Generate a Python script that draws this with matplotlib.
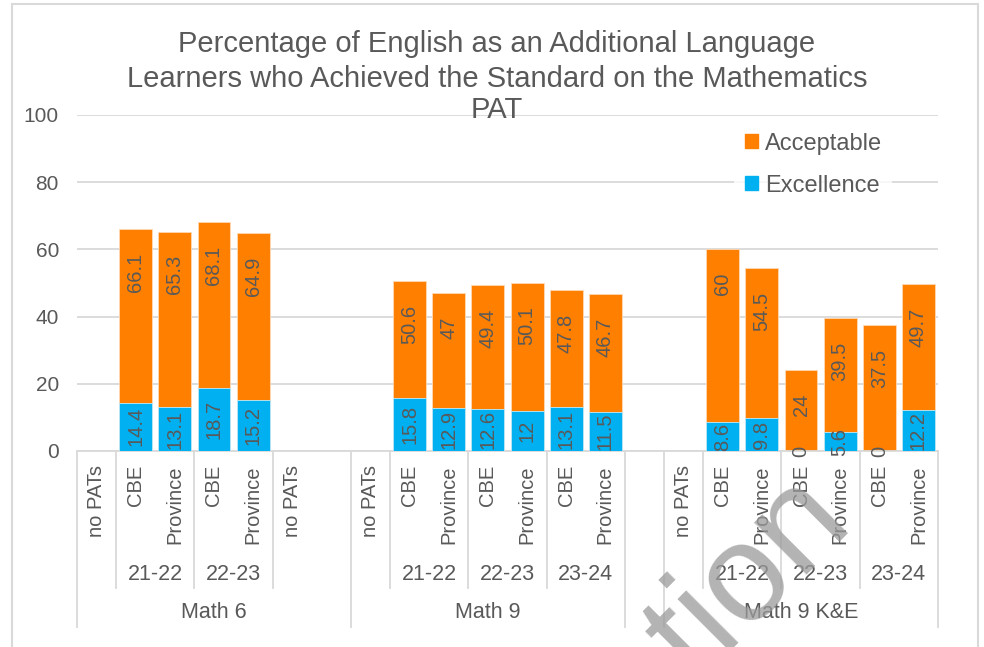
import itertools
import matplotlib
matplotlib.use("Agg")
import matplotlib.pyplot as plt
from matplotlib.patches import Rectangle, Patch
from matplotlib.lines import Line2D
from matplotlib.transforms import blended_transform_factory

plt.rcParams['font.family'] = ['Liberation Sans', 'DejaVu Sans']

# chart data (one entry per category slot on the x axis)
categories = ["no PATs", "CBE", "Province", "CBE", "Province", "no PATs", "",
              "no PATs", "CBE", "Province", "CBE", "Province", "CBE", "Province",
              "",
              "no PATs", "CBE", "Province", "CBE", "Province", "CBE", "Province"]
years = ["", "21-22", "21-22", "22-23", "22-23", "", "",
         "", "21-22", "21-22", "22-23", "22-23", "23-24", "23-24",
         "",
         "", "21-22", "21-22", "22-23", "22-23", "23-24", "23-24"]
groups = ["Math 6"] * 7 + ["Math 9"] * 7 + [""] + ["Math 9 K&E"] * 7
acceptable = [None, 66.1, 65.3, 68.1, 64.9, None, None,
              None, 50.6, 47, 49.4, 50.1, 47.8, 46.7,
              None,
              None, 60, 54.5, 24, 39.5, 37.5, 49.7]
excellence = [None, 14.4, 13.1, 18.7, 15.2, None, None,
              None, 15.8, 12.9, 12.6, 12, 13.1, 11.5,
              None,
              None, 8.6, 9.8, 0, 5.6, 0, 12.2]

title = ("Percentage of English as an Additional Language",
         "Learners who Achieved the Standard on the Mathematics",
         "PAT")

ORANGE = "#FF8000"
BLUE = "#00B0F0"
TXT = "#595959"
GRID = "#D9D9D9"

W, H = 984, 647
fig = plt.figure(figsize=(W / 100, H / 100), dpi=100)


def fy(px):
    return 1 - px / H


# chart border
fig.patches.append(Rectangle((12 / W, -0.02), 966 / W, fy(4) + 0.02,
                             transform=fig.transFigure, fill=False,
                             edgecolor=GRID, lw=1.5))

ax = fig.add_axes([77 / W, fy(451), 861 / W, 336 / H])
n = len(categories)
xs = range(n)

ia = [i for i in xs if acceptable[i] is not None]
ie = [i for i in xs if excellence[i] is not None]
ax.bar(ia, [acceptable[i] for i in ia], width=0.84, color=ORANGE,
       edgecolor="#FFD9B3", lw=0.6, zorder=2)
ax.bar(ie, [excellence[i] for i in ie], width=0.84, color=BLUE,
       edgecolor="#BFEBFB", lw=0.6, zorder=3)

for i in ia:
    ax.annotate(f"{acceptable[i]:g}", (i, acceptable[i]), xytext=(0, -17),
                textcoords="offset points", rotation=90, ha="center",
                va="top", fontsize=14.5, color=TXT, zorder=5)
for i in ie:
    ax.text(i, excellence[i] / 2, f"{excellence[i]:g}", rotation=90,
            ha="center", va="center", fontsize=14.5, color=TXT, zorder=5)

ax.set_xlim(-0.5, n - 0.5)
ax.set_ylim(0, 100)
ax.set_yticks(range(0, 101, 20))
ax.set_xticks([])
ax.tick_params(axis="y", length=0, pad=13, labelsize=15, labelcolor=TXT)
ax.yaxis.grid(True, color=GRID, lw=1.3, zorder=0)
ax.set_axisbelow(True)
for s in ["left", "right", "top"]:
    ax.spines[s].set_visible(False)
ax.spines["bottom"].set_color(GRID)
ax.spines["bottom"].set_linewidth(1.3)

# multi-level category axis
tr = blended_transform_factory(ax.transData, fig.transFigure)
for i, c in enumerate(categories):
    ax.text(i, fy(465), c, transform=tr, rotation=90, ha="center", va="top",
            fontsize=14.5, color=TXT, clip_on=False)

start = 0
for key, grp in itertools.groupby(zip(groups, years)):
    cnt = len(list(grp))
    mid = start + (cnt - 1) / 2
    if key[1]:
        ax.text(mid, fy(575), key[1], transform=tr, ha="center", va="center",
                fontsize=15.5, color=TXT, clip_on=False)
    start += cnt
    if start < n and groups[start] == key[0]:
        ax.add_line(Line2D([start - 0.5] * 2, [fy(451), fy(588)], transform=tr,
                           color=GRID, lw=1.3, clip_on=False))

start = 0
ax.add_line(Line2D([-0.5] * 2, [fy(451), fy(627)], transform=tr,
                   color=GRID, lw=1.3, clip_on=False))
for key, grp in itertools.groupby(groups):
    cnt = len(list(grp))
    mid = start + (cnt - 1) / 2
    ax.text(mid, fy(613), key, transform=tr, ha="center", va="center",
            fontsize=15.5, color=TXT, clip_on=False)
    start += cnt
    ax.add_line(Line2D([start - 0.5] * 2, [fy(451), fy(627)], transform=tr,
                       color=GRID, lw=1.3, clip_on=False))

# title
for line, base in zip(title, [52, 87, 118]):
    fig.text(497 / W, fy(base), line, ha="center", va="baseline",
             fontsize=21, color=TXT)

# legend
handles = [Patch(color=ORANGE, label="Acceptable"),
           Patch(color=BLUE, label="Excellence")]
leg = fig.legend(handles=handles, loc="upper left",
                 bbox_to_anchor=(734 / W, fy(122)), fontsize=17,
                 frameon=True, borderpad=0.45, handlelength=0.55,
                 handleheight=0.55, handletextpad=0.3, labelspacing=0.85,
                 borderaxespad=0)
leg.get_frame().set_facecolor("white")
leg.get_frame().set_edgecolor("none")
leg.get_frame().set_boxstyle("square", pad=0)
for t in leg.get_texts():
    t.set_color(TXT)

# watermark
fig.text(640 / W, fy(735), "ation", rotation=45, rotation_mode="anchor",
         ha="left", va="baseline", fontsize=100, color="#9A9A9A", alpha=0.75)

fig.savefig("out.png", dpi=100)
